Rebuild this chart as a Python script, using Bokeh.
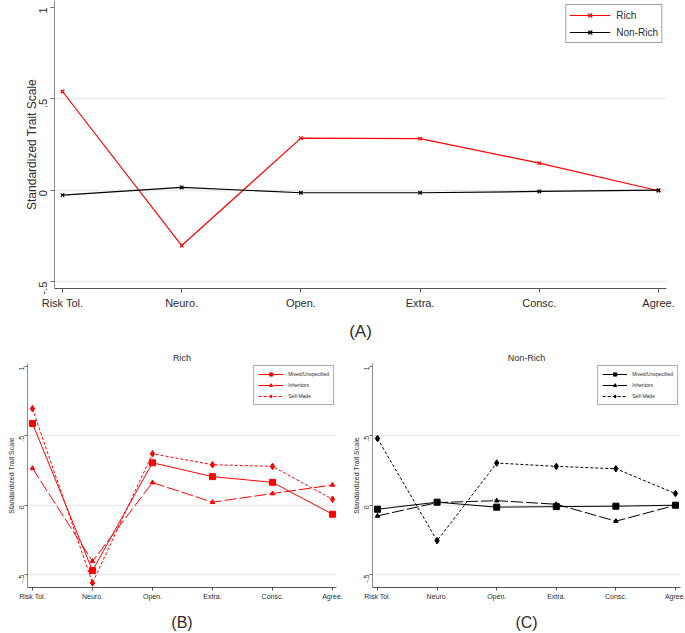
import math
from bokeh.plotting import figure
from bokeh.models import FixedTicker, Legend, LegendItem, Range1d
from bokeh.layouts import column, row
from bokeh.embed import file_html
from bokeh.resources import INLINE

# ---------------- data ----------------
categories = ["Risk Tol.", "Neuro.", "Open.", "Extra.", "Consc.", "Agree."]
y_ticks = [-0.5, 0, 0.5, 1]
y_tick_labels = ["-.5", "0", ".5", "1"]
grid_ticks = [-0.5, 0, 0.5]

rich = [0.540, -0.303, 0.285, 0.282, 0.148, -0.003]
non_rich = [-0.027, 0.015, -0.014, -0.014, -0.007, 0.0]

rich_mixed = [0.589, -0.471, 0.306, 0.206, 0.165, -0.065]
rich_inheritors = [0.266, -0.404, 0.163, 0.022, 0.084, 0.146]
rich_selfmade = [0.696, -0.560, 0.371, 0.292, 0.280, 0.043]

nonrich_mixed = [-0.029, 0.022, -0.014, -0.010, -0.007, 0.0]
nonrich_inheritors = [-0.077, 0.019, 0.033, 0.007, -0.115, 0.0]
nonrich_selfmade = [0.481, -0.256, 0.304, 0.280, 0.263, 0.084]

xs = list(range(len(categories)))

FONT = "Liberation Sans"
TXT = "#2b2b2b"


def style(p, tick_px, ylab_px, tick_out, tick_standoff, ylab_standoff):
    p.xaxis.ticker = FixedTicker(ticks=xs)
    p.xaxis.major_label_overrides = {i: c for i, c in enumerate(categories)}
    p.yaxis.ticker = FixedTicker(ticks=y_ticks)
    p.yaxis.major_label_overrides = dict(zip(y_ticks, y_tick_labels))
    p.yaxis.major_label_orientation = math.pi / 2
    for ax in (p.xaxis[0], p.yaxis[0]):
        ax.major_label_text_font = FONT
        ax.major_label_text_font_size = f"{tick_px}px"
        ax.major_label_text_color = TXT
        ax.axis_label_text_font = FONT
        ax.axis_label_text_font_style = "normal"
        ax.axis_label_text_color = TXT
        ax.minor_tick_line_color = None
        ax.major_tick_in = 0
        ax.major_tick_out = tick_out
        ax.major_label_standoff = 2
    p.yaxis.major_label_standoff = tick_standoff
    p.yaxis.axis_line_color = "#8c8c8c"
    p.yaxis.major_tick_line_color = "#6c6c6c"
    p.xaxis.axis_line_color = "#555555"
    p.xaxis.major_tick_line_color = "#555555"
    p.yaxis.axis_label = "Standardized Trait Scale"
    p.yaxis.axis_label_text_font_size = f"{ylab_px}px"
    p.yaxis.axis_label_standoff = ylab_standoff
    p.xgrid.visible = False
    p.ygrid.ticker = FixedTicker(ticks=grid_ticks)
    p.ygrid.grid_line_color = "#e9e9e9"
    p.ygrid.grid_line_width = 1.5
    p.outline_line_color = None
    p.background_fill_color = "white"
    p.border_fill_color = "white"


# ---------------- panel A ----------------
pA = figure(width=685, height=345, output_backend="svg", toolbar_location=None,
            x_range=Range1d(-0.067, 5.067), y_range=Range1d(-0.538, 1.038),
            min_border_left=54, min_border_right=19, min_border_top=0, min_border_bottom=57)
style(pA, 11, 12, 4, 7, -6)
pA.xaxis.major_label_standoff = 4
pA.xaxis.axis_label = "(A)"
pA.xaxis.axis_label_text_font_size = "17px"
pA.xaxis.axis_label_standoff = 10

lr = pA.line(xs, rich, line_color="red", line_width=1.2)
sr = pA.scatter(xs, rich, marker="x", size=5, line_color="red", line_width=1.2)
ln = pA.line(xs, non_rich, line_color="black", line_width=1.2)
sn = pA.scatter(xs, non_rich, marker="x", size=5, line_color="black", line_width=1.2)

legA = Legend(items=[LegendItem(label="Rich", renderers=[lr, sr]),
                     LegendItem(label="Non-Rich", renderers=[ln, sn])],
              location="top_right", margin=4, padding=3, spacing=3,
              glyph_width=41, glyph_height=14, label_height=14, label_standoff=6,
              label_text_font=FONT, label_text_font_size="10px", label_text_color=TXT,
              border_line_color="#444444", border_line_width=1,
              background_fill_color="white", background_fill_alpha=1)
pA.add_layout(legA)


# ---------------- panels B and C ----------------
def sub_panel(title, mixed, inh, selfm, color, width, mbl, mbr, x_start, x_end, letter):
    p = figure(width=width, height=288, output_backend="svg", toolbar_location=None,
               x_range=Range1d(x_start, x_end), y_range=Range1d(-0.593, 1.0215),
               min_border_left=mbl, min_border_right=mbr, min_border_top=18,
               min_border_bottom=45)
    style(p, 7, 7, 3, 3, -1)
    p.title.text = title
    p.title.align = "center"
    p.title.text_font = FONT
    p.title.text_font_style = "normal"
    p.title.text_font_size = "9px"
    p.title.text_color = TXT
    p.title.standoff = 2
    p.xaxis.axis_label = letter
    p.xaxis.axis_label_text_font_size = "16px"
    p.xaxis.axis_label_standoff = 11

    l1 = p.line(xs, mixed, line_color=color, line_width=1)
    s1 = p.scatter(xs, mixed, marker="square", size=6, fill_color=color, line_color=color)
    l2 = p.line(xs, inh, line_color=color, line_width=1, line_dash="12 3")
    s2 = p.scatter(xs, inh, marker="triangle", size=4.5, fill_color=color, line_color=color)
    l3 = p.line(xs, selfm, line_color=color, line_width=1, line_dash="3 2")
    s3 = p.scatter(xs, selfm, marker="diamond", size=6.5, fill_color=color, line_color=color)

    leg = Legend(items=[LegendItem(label="Mixed/Unspecified", renderers=[l1, s1]),
                        LegendItem(label="Inheritors", renderers=[l2, s2]),
                        LegendItem(label="Self-Made", renderers=[l3, s3])],
                 location="top_right", margin=2, padding=4, spacing=3,
                 glyph_width=25, glyph_height=8, label_height=8, label_standoff=5,
                 label_text_font=FONT, label_text_font_size="5px", label_text_color=TXT,
                 border_line_color="#555555", border_line_width=1,
                 background_fill_color="white", background_fill_alpha=1)
    p.add_layout(leg)
    return p


pB = sub_panel("Rich", rich_mixed, rich_inheritors, rich_selfmade, "red",
               345, 27, 9, -0.083, 5.067, "(B)")
pC = sub_panel("Non-Rich", nonrich_mixed, nonrich_inheritors, nonrich_selfmade, "black",
               340, 27, 5, -0.084, 5.084, "(C)")

layout = column(pA, row(pB, pC))
open("out.html", "w").write(file_html(layout, INLINE))
